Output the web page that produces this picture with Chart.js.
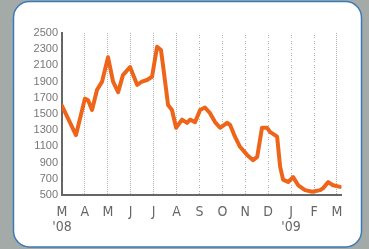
<!DOCTYPE html>
<html><head><meta charset="utf-8">
<script src="https://cdn.jsdelivr.net/npm/chart.js@4/dist/chart.umd.min.js"></script>
<style>html,body{margin:0;padding:0;background:#a3aaa7;}#wrap{width:369px;height:249px;position:relative;}</style>
</head><body><div id="wrap"><canvas id="c" width="369" height="249"></canvas></div>
<script>
const months = ["M","A","M","J","J","A","S","O","N","D","J","F","M"];
const yearLabels = {0:"'08", 10:"'09"};
const yTicks = [500,700,900,1100,1300,1500,1700,1900,2100,2300,2500];
// month index (fractional) and value
const monthPos = [0,0.61,1.0,1.14,1.31,1.53,1.75,2.01,2.23,2.45,2.66,2.97,3.28,3.49,3.71,3.93,4.15,4.32,4.41,4.63,4.80,4.98,5.24,5.46,5.59,5.81,6.03,6.24,6.46,6.68,6.90,7.21,7.34,7.55,7.77,8.08,8.34,8.52,8.73,8.95,9.08,9.39,9.52,9.65,9.87,10.09,10.31,10.61,10.92,11.27,11.40,11.62,11.83,12.14];
const values = [1600,1240,1690,1670,1550,1800,1900,2200,1900,1770,1980,2080,1860,1900,1920,1960,2330,2290,2100,1610,1550,1330,1430,1390,1430,1400,1550,1580,1510,1400,1330,1390,1365,1220,1095,995,930,970,1330,1330,1280,1220,850,690,660,720,620,560,540,560,585,660,620,600];

const points = monthPos.map((m,i)=>({x:m,y:values[i]}));

const panel = {
  id:'panel',
  beforeDraw(chart){
    const ctx = chart.ctx;
    ctx.save();
    ctx.fillStyle = '#a3aaa7';
    ctx.fillRect(0,0,chart.width,chart.height);
    const x=13.5,y=1.5,w=348,h=245.5,r=16;
    ctx.beginPath();
    ctx.moveTo(x+r,y);
    ctx.lineTo(x+w-r,y);ctx.arcTo(x+w,y,x+w,y+r,r);
    ctx.lineTo(x+w,y+h-r);ctx.arcTo(x+w,y+h,x+w-r,y+h,r);
    ctx.lineTo(x+r,y+h);ctx.arcTo(x,y+h,x,y+h-r,r);
    ctx.lineTo(x,y+r);ctx.arcTo(x,y,x+r,y,r);
    ctx.closePath();
    ctx.fillStyle='#ffffff';ctx.fill();
    ctx.lineWidth=1.5;ctx.strokeStyle='#3b7ab8';ctx.stroke();
    ctx.restore();
  }
};

new Chart(document.getElementById('c'), {
  type:'line',
  data:{datasets:[{data:points,borderColor:'#ee6419',borderWidth:4,pointRadius:0,tension:0,borderJoinStyle:'round',borderCapStyle:'round',fill:false}]},
  options:{
    responsive:false,animation:false,
    layout:{padding:{left:14,top:33,right:27.5,bottom:0}},
    plugins:{legend:{display:false},tooltip:{enabled:false}},
    scales:{
      x:{type:'linear',min:0,max:12.2,
        afterFit(s){s.height=54;},
        afterBuildTicks(s){s.ticks=months.map((m,i)=>({value:i}));},
        grid:{display:true,drawTicks:false,color:'#b0b0b0',lineWidth:1},
        border:{display:true,color:'#666',width:2,dash:[1,1]},
        ticks:{padding:10,maxRotation:0,autoSkip:false,color:'#666',
          font:{family:"'Liberation Sans Narrow','DejaVu Sans Condensed',sans-serif",size:14,lineHeight:1.05},
          callback(v){const i=Math.round(v);const m=months[i];return yearLabels[i]!==undefined?[m,yearLabels[i]]:m;}}
      },
      y:{min:500,max:2500,
        afterFit(s){s.width=48;},
        afterBuildTicks(s){s.ticks=yTicks.map(v=>({value:v}));},
        grid:{display:false,drawTicks:false},
        border:{display:true,color:'#666',width:2,dash:[1,1]},
        ticks:{padding:4,color:'#777',font:{family:"'Liberation Sans',sans-serif",size:11},
          callback(v){return String(v);}}
      }
    }
  },
  plugins:[panel, {
    id:'dotgrid',
    beforeDatasetsDraw(chart){
      const {ctx,chartArea,scales:{x}}=chart;
      ctx.save();
      ctx.strokeStyle='#fff';ctx.lineWidth=1;
      ctx.setLineDash([1,2]);
      for(let i=1;i<months.length;i++){
        const px=Math.round(x.getPixelForValue(i))+0.5;
        ctx.beginPath();ctx.moveTo(px,chartArea.top);ctx.lineTo(px,chartArea.bottom-1);ctx.stroke();
      }
      ctx.restore();
    }
  }]
});
</script></body></html>
